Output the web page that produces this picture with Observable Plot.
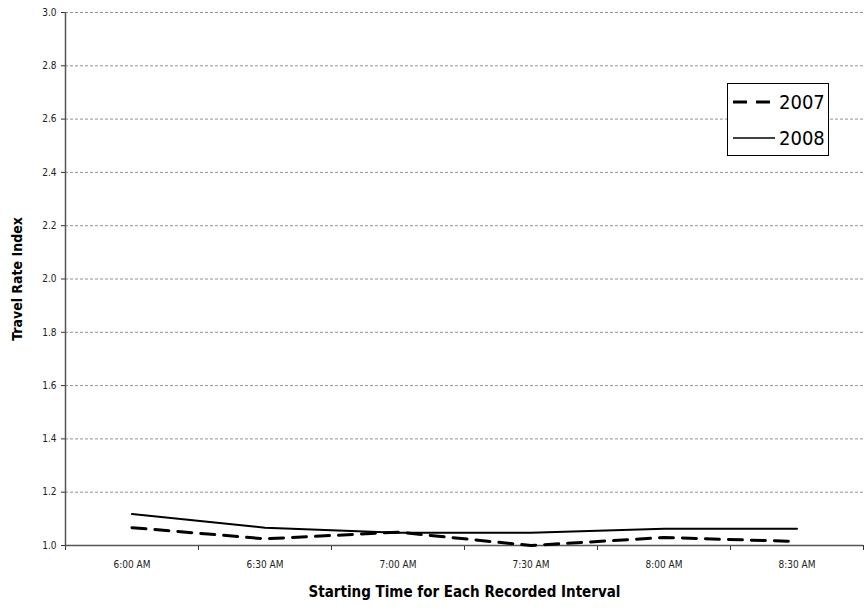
<!DOCTYPE html>
<html><head><meta charset="utf-8">
<script src="https://cdn.jsdelivr.net/npm/d3@7"></script>
<script src="https://cdn.jsdelivr.net/npm/@observablehq/plot@0.6"></script>
<style>
body{margin:0;background:#fff;}
#wrap{position:relative;width:865px;height:613px;}
#legend{position:absolute;left:727px;top:83px;width:100px;height:71px;border:1px solid #000;background:#fff;font-family:"DejaVu Sans Condensed","DejaVu Sans",sans-serif;font-stretch:condensed;font-size:20px;}
#legend div{position:absolute;left:4px;height:30px;display:flex;align-items:center;}
svg text{font-stretch:condensed;}
</style></head>
<body><div id="wrap"><div id="chart"></div>
<div id="legend"></div></div>
<script>
const times = ["6:00 AM","6:30 AM","7:00 AM","7:30 AM","8:00 AM","8:30 AM"];
const y2007 = [1.067, 1.025, 1.05, 1.0, 1.03, 1.015];
const y2008 = [1.118, 1.067, 1.048, 1.048, 1.063, 1.063];
const yTicks = [1.0,1.2,1.4,1.6,1.8,2.0,2.2,2.4,2.6,2.8,3.0];
const years = ["2007","2008"];

const d07 = times.map((t,i)=>({i, t, v:y2007[i]}));
const d08 = times.map((t,i)=>({i, t, v:y2008[i]}));
const font = '"DejaVu Sans Condensed","DejaVu Sans",sans-serif';

const chart = Plot.plot({
  width: 865, height: 613,
  marginLeft: 65, marginRight: 2, marginTop: 12, marginBottom: 68,
  style: {fontFamily: font, fontSize: "10px", color:"#222", background:"#fff"},
  x: {type:"linear", domain:[0,6]},
  y: {domain:[1,3]},
  marks: [
    Plot.gridY(yTicks.slice(1), {stroke:"#777", strokeOpacity:1, strokeDasharray:"3,2", strokeWidth:0.8}),
    Plot.axisY(yTicks, {tickSize:4, tickFormat:d=>d.toFixed(1), label:null, fontSize:10, stroke:"#333"}),
    Plot.axisX(d3.range(7), {tickSize:5, tickFormat:()=>"", label:null, stroke:"#333"}),
    Plot.axisX(d3.range(6).map(i=>i+0.5), {tickSize:0, tickPadding:15, tickFormat:x=>times[Math.floor(x)], label:null, fontSize:10}),
    Plot.ruleX([0], {stroke:"#555", strokeWidth:1.5}),
    Plot.ruleY([1], {stroke:"#555", strokeWidth:1.5}),
    Plot.line(d08, {x:d=>d.i+0.5, y:"v", stroke:"#000", strokeWidth:2}),
    Plot.line(d07, {x:d=>d.i+0.5, y:"v", stroke:"#000", strokeWidth:3, strokeDasharray:"14,9"}),
    Plot.text(["Starting Time for Each Recorded Interval"], {frameAnchor:"bottom", dy:51, fontWeight:"bold", fontSize:15, fill:"#000"}),
    Plot.text(["Travel Rate Index"], {frameAnchor:"left", textAnchor:"middle", dx:-48, rotate:-90, fontWeight:"bold", fontSize:14, fill:"#000"})
  ]
});
document.getElementById("chart").appendChild(chart);

const leg = document.getElementById("legend");
years.forEach((y, k) => {
  const row = document.createElement("div");
  row.style.top = (3 + k*36) + "px";
  const dash = k === 0 ? 'stroke-width="3" stroke-dasharray="14,9"' : 'stroke-width="1.5"';
  row.innerHTML = `<svg width="44" height="10"><line x1="1" x2="43" y1="5" y2="5" stroke="#000" ${dash}/></svg><span style="margin-left:3px">${y}</span>`;
  leg.appendChild(row);
});
</script></body></html>
